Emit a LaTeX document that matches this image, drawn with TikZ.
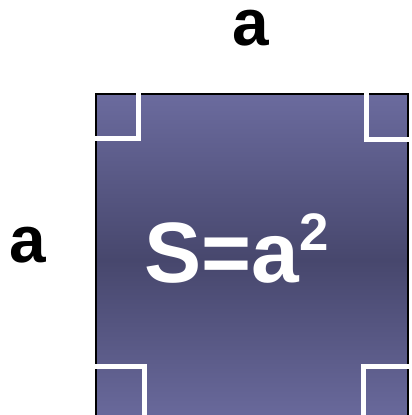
\documentclass[tikz,border=0pt]{standalone}
\usepackage{fontspec}
\setmainfont{Liberation Sans}
\usetikzlibrary{positioning}
\definecolor{SqEdge}{HTML}{6B6B9E}
\definecolor{SqMid}{HTML}{47476D}

\begin{document}
\begin{tikzpicture}[x=1bp,y=-1bp,
 side/.style={font=\fontsize{66}{66}\bfseries\selectfont,inner sep=0pt},
 area/.style={font=\fontsize{86}{86}\bfseries\selectfont,text=white,inner sep=0pt},
 sq/.style={draw=black,line width=1.5bp,top color=SqEdge,bottom color=SqEdge,middle color=SqMid},
 rmark/.style={draw=white,line width=5bp}]
\useasboundingbox (0,0) rectangle (412,415);
\path[sq] (96,94) rectangle (408,426);
% right-angle marks
\draw[rmark] (94.5,138)--(138,138)--(138,93);
\draw[rmark] (409.5,139)--(366,139)--(366,93);
\draw[rmark] (94.5,366)--(144,366)--(144,430);
\draw[rmark] (409.5,366)--(363,366)--(363,430);
\node[side,anchor=base] (top) at (251,45) {a};
\node[side,anchor=base] (left) at (28,262) {a};
\node[area,anchor=base west] (s) at (144,282) {S=a\raisebox{32bp}{\fontsize{53}{53}\selectfont 2}};
\end{tikzpicture}
\end{document}
